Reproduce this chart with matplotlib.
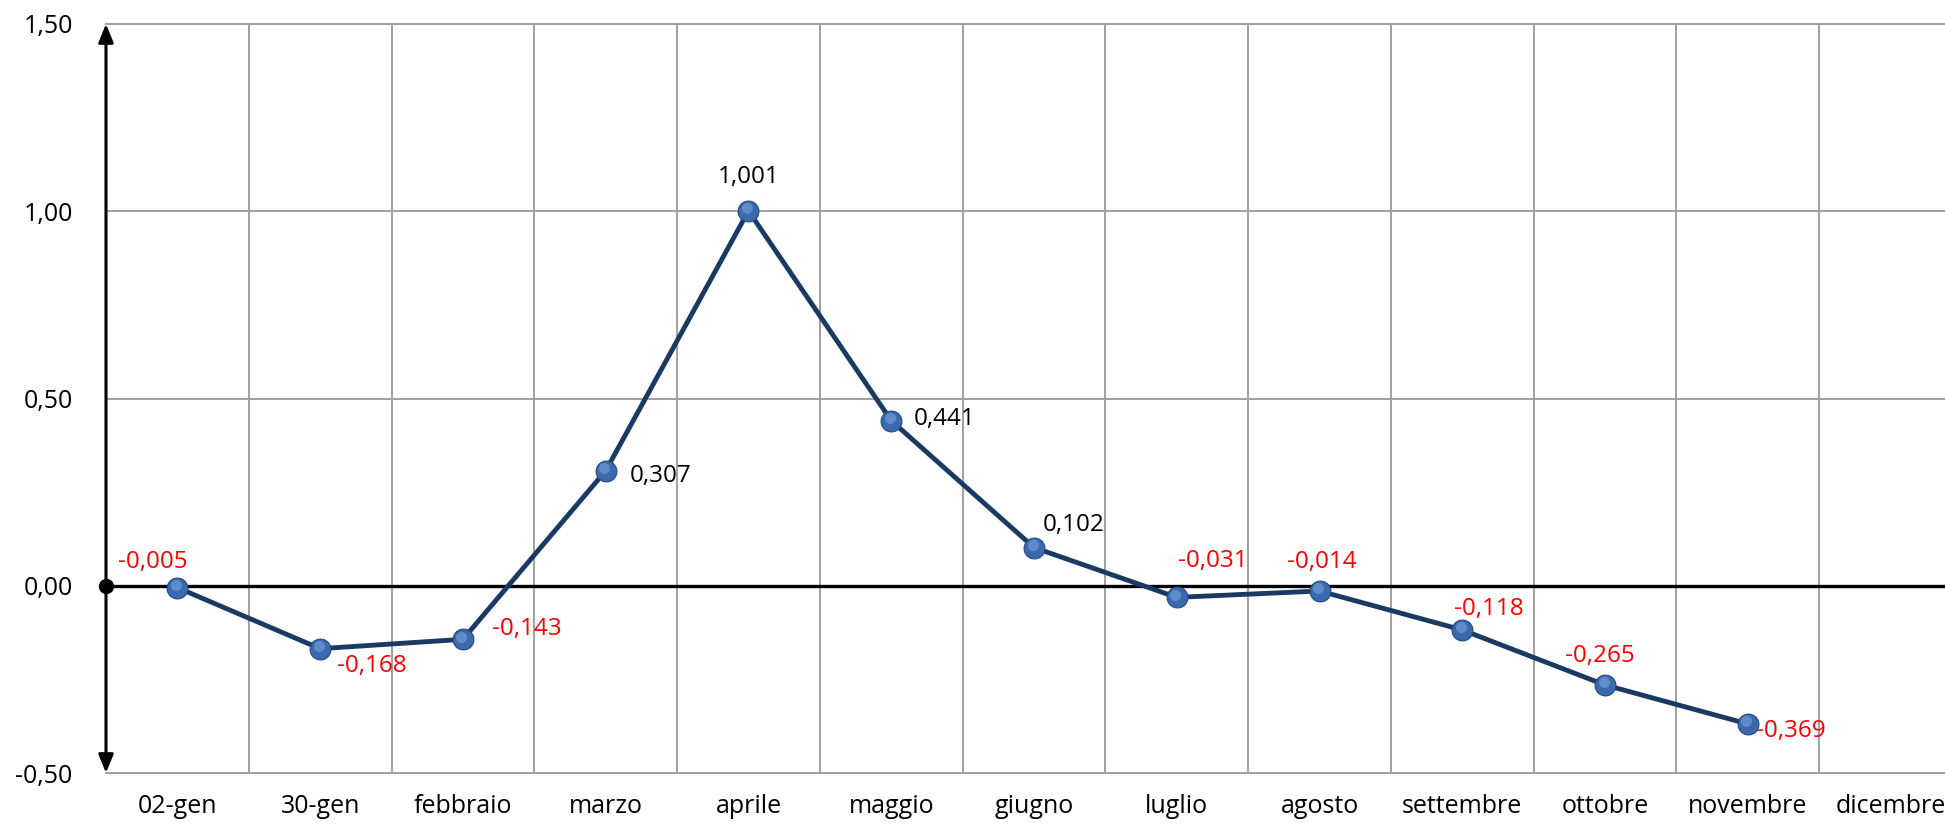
import numpy as np
import matplotlib
matplotlib.use("Agg")
import matplotlib.pyplot as plt
import matplotlib.transforms as mtransforms
from matplotlib.ticker import FuncFormatter, MultipleLocator, FixedLocator

categories = ["02-gen", "30-gen", "febbraio", "marzo", "aprile", "maggio",
              "giugno", "luglio", "agosto", "settembre", "ottobre",
              "novembre", "dicembre"]
values = [-0.005, -0.168, -0.143, 0.307, 1.001, 0.441, 0.102,
          -0.031, -0.014, -0.118, -0.265, -0.369, np.nan]

# label offsets in pixels (dx right, dy down) relative to each point
label_offsets = [(-25, -26), (52, 17), (64, -10), (55, 5), (0, -34),
                 (53, -2), (40, -23), (36, -36), (2, -29), (27, -21),
                 (-5, -29), (43, 7)]

plt.rcParams['font.family'] = ['Open Sans', 'DejaVu Sans']

W, H = 1945, 824
fig = plt.figure(figsize=(W / 100, H / 100), dpi=100)
left, right, top, bottom = 106, 1962, 24, 773
ax = fig.add_axes([left / W, 1 - bottom / H, (right - left) / W, (bottom - top) / H])

x = np.arange(len(categories))
ax.set_xlim(-0.5, len(categories) - 0.5)
ax.set_ylim(-0.5, 1.5)

grid_c = '#a0a0a0'
ax.yaxis.set_major_locator(MultipleLocator(0.5))
ax.yaxis.set_major_formatter(FuncFormatter(lambda v, p: f"{v:.2f}".replace('.', ',')))
ax.xaxis.set_major_locator(FixedLocator(x))
ax.set_xticklabels(categories)
ax.xaxis.set_minor_locator(FixedLocator(x[:-1] + 0.5))
ax.grid(True, axis='y', which='major', color=grid_c, lw=1.4)
ax.grid(True, axis='x', which='minor', color=grid_c, lw=1.4)
ax.tick_params(axis='both', which='both', length=0, labelsize=18)
ax.tick_params(axis='y', pad=24)
ax.tick_params(axis='x', pad=15)

for s in ['left', 'right']:
    ax.spines[s].set_visible(False)
for s in ['top', 'bottom']:
    ax.spines[s].set_color(grid_c)
    ax.spines[s].set_linewidth(1.4)

# zero line
ax.axhline(0, color='black', lw=2.4, zorder=2)

# vertical axis with arrows at both ends
ax.annotate('', xy=(0, 1), xytext=(0, 0), xycoords='axes fraction',
            arrowprops=dict(arrowstyle='<|-|>,head_length=1.1,head_width=0.45',
                            color='black', lw=2.2, shrinkA=0, shrinkB=0,
                            mutation_scale=10),
            annotation_clip=False, zorder=5)
ax.plot([-0.5], [0], 'o', color='black', ms=10, clip_on=False, zorder=6)

# series
ax.plot(x, values, color='#1b3a63', lw=3.5, zorder=3)
ax.plot(x, values, 'o', ms=15, color='#3a69ad', mec='#254b80', mew=0.8, zorder=4)
hl = mtransforms.offset_copy(ax.transData, fig=fig, x=-1.5, y=2.5, units='dots')
ax.plot(x, values, 'o', ms=8, color='#6f9ad6', mec='none', alpha=0.7,
        transform=hl, zorder=4)

for xi, v, (dx, dy) in zip(x, values, label_offsets):
    ax.annotate(f"{v:.3f}".replace('.', ','), xy=(xi, v),
                xytext=(dx, -dy), textcoords='offset pixels',
                ha='center', va='center', fontsize=17.5,
                color='red' if v < 0 else 'black', zorder=7)

fig.savefig('out.png', dpi=100)
